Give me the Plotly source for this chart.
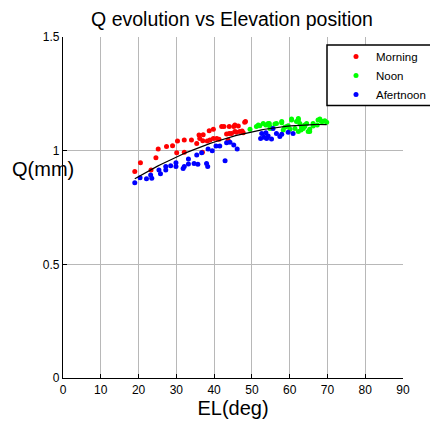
import numpy as np
import plotly.graph_objects as go

# ---- data ----
morning_el = [19.0, 20.5, 23.3, 24.6, 25.2, 27.4, 29.0, 30.3, 30.1, 32.1, 32.1, 34.0, 35.4, 36.0,
              37.1, 36.9, 37.0, 38.2, 38.7, 38.9, 39.8, 39.8, 40.7, 41.3, 42.0, 42.6, 43.3, 43.7,
              44.0, 44.0, 44.6, 45.2, 45.5, 45.5, 45.9, 46.4, 46.8, 47.4, 47.7, 48.1, 48.3, 36.2]
morning_q = [0.908, 0.947, 0.915, 0.969, 1.007, 1.018, 1.022, 1.043, 0.991, 1.047, 0.993, 1.047, 1.032, 1.069,
             1.070, 0.993, 1.044, 1.043, 1.088, 1.047, 1.094, 1.054, 1.054, 1.050, 1.106, 1.106, 1.073, 1.047,
             1.106, 1.076, 1.076, 1.106, 1.113, 1.084, 1.081, 1.109, 1.084, 1.087, 1.079, 1.125, 1.128, 1.054]

noon_el = [49.5, 51.2, 52.1, 53.7, 54.6, 54.8, 56.1, 57.9, 58.3, 58.7, 59.6, 60.1, 60.5, 61.4, 61.8,
           62.3, 62.7, 63.0, 63.1, 64.0, 64.5, 65.3, 65.3, 66.2, 67.3, 68.0, 68.7, 69.3, 69.8,
           51.7, 54.3, 56.5, 57.9, 60.5, 62.3, 64.0, 64.9, 66.2, 67.5, 68.4, 59.2, 62.3, 63.6, 54.8, 53.0]
noon_q = [1.094, 1.106, 1.110, 1.113, 1.120, 1.098, 1.117, 1.123, 1.091, 1.103, 1.110, 1.094, 1.139, 1.098, 1.128,
          1.135, 1.120, 1.091, 1.106, 1.106, 1.120, 1.094, 1.084, 1.109, 1.113, 1.139, 1.128, 1.132, 1.125,
          1.113, 1.120, 1.120, 1.128, 1.135, 1.142, 1.113, 1.084, 1.120, 1.135, 1.128, 1.106, 1.084, 1.098, 1.106, 1.120]

afternoon_el = [19.0, 20.4, 22.1, 23.2, 23.5, 25.4, 25.8, 27.2, 27.2, 28.5, 29.9, 29.9, 31.8, 32.1, 33.2,
                33.2, 34.7, 35.7, 35.4, 36.7, 38.0, 38.3, 38.4, 39.5, 40.5, 41.5, 42.9, 43.3, 44.2, 45.2,
                46.1, 52.3, 52.6, 53.2, 53.7, 53.9, 54.3, 55.2, 55.6, 56.5, 57.4, 57.9, 59.6, 60.9]
afternoon_q = [0.859, 0.881, 0.876, 0.893, 0.879, 0.915, 0.899, 0.930, 0.915, 0.934, 0.947, 0.930, 0.922, 0.930, 0.963,
               0.941, 0.943, 0.940, 0.981, 0.991, 0.944, 0.930, 1.007, 1.000, 1.021, 1.021, 0.956, 1.035, 1.037, 1.025,
               1.007, 1.054, 1.076, 1.059, 1.079, 1.054, 1.065, 1.051, 1.098, 1.076, 1.062, 1.072, 1.081, 1.076]

x_ticks = [0, 10, 20, 30, 40, 50, 60, 70, 80, 90]
y_ticks = [0, 0.5, 1, 1.5]
y_tick_labels = ["0", "0.5", "1", "1.5"]

# quadratic fit over all points
all_x = np.array(morning_el + noon_el + afternoon_el)
all_y = np.array(morning_q + noon_q + afternoon_q)
coef = np.polyfit(all_x, all_y, 2)
fit_x = np.linspace(all_x.min(), all_x.max(), 60)
fit_y = np.polyval(coef, fit_x)

FONT = "Liberation Sans, Arial, Helvetica, sans-serif"

# figure-pixel geometry (page body adds an 8px offset)
W, H = 438, 425
ML, MR, MT, MB = 55, 43, 29, 55
PW, PH = W - ML - MR, H - MT - MB


def px_x(p):
    return (p - ML) / PW


def px_y(p):
    return (H - MB - p) / PH


fig = go.Figure()
for name, xs, ys, col in [("Morning", morning_el, morning_q, "#ff0000"),
                          ("Noon", noon_el, noon_q, "#00ff00"),
                          ("Afertnoon", afternoon_el, afternoon_q, "#0000ff")]:
    fig.add_trace(go.Scatter(x=xs, y=ys, mode="markers", name=name,
                             marker=dict(color=col, size=5, line=dict(width=0))))
fig.add_trace(go.Scatter(x=fit_x, y=fit_y, mode="lines", showlegend=False,
                         line=dict(color="black", width=1.2)))

axis_common = dict(showgrid=True, gridcolor="#b8b8b8", gridwidth=1.3,
                   showline=True, linecolor="black", linewidth=1.2,
                   ticks="inside", ticklen=4, tickcolor="black", automargin=False,
                   zeroline=False, tickfont=dict(family=FONT, size=12, color="black"))

fig.update_layout(
    width=W, height=H,
    margin=dict(l=ML, r=MR, t=MT, b=MB, autoexpand=False),
    paper_bgcolor="white", plot_bgcolor="white",
    font=dict(family=FONT, color="black"),
    title=dict(text="Q evolution vs Elevation position", x=224 / W, xanchor="center",
               y=1 - 11 / H, yanchor="middle", font=dict(size=19.5, family=FONT, color="black")),
    xaxis=dict(range=[0, 90], tickvals=x_ticks, **axis_common,
               title=dict(text="EL(deg)", font=dict(size=20, family=FONT), standoff=4)),
    yaxis=dict(range=[0, 1.5], tickvals=y_ticks, ticktext=y_tick_labels, **axis_common),
    legend=dict(x=px_x(328), xanchor="left", y=px_y(34), yanchor="top",
                borderwidth=0, bgcolor="rgba(0,0,0,0)",
                font=dict(size=11.5, family=FONT, color="black"),
                itemwidth=30, tracegroupgap=0),
    shapes=[dict(type="rect", xref="paper", yref="paper",
                 x0=px_x(319), x1=px_x(520), y0=px_y(97.5), y1=px_y(37),
                 line=dict(color="black", width=1.5), fillcolor="white", layer="above")],
    annotations=[dict(text="Q(mm)", xref="paper", yref="paper", x=px_x(2), y=px_y(161),
                      xanchor="left", yanchor="middle", showarrow=False,
                      font=dict(size=20, family=FONT, color="black"))],
)

fig.write_html("out.html")
